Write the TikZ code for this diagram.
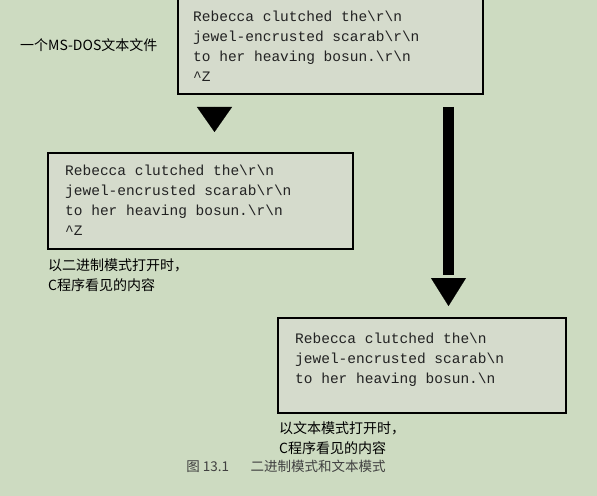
\documentclass[tikz,border=0pt]{standalone}
\usepackage{fontspec}
\setmonofont{Liberation Mono}
\newfontfamily\cjk{Noto Sans CJK SC}
\usetikzlibrary{positioning,arrows.meta}
\definecolor{bgcol}{HTML}{CDDBC1}
\definecolor{boxcol}{HTML}{D5DBCC}
\definecolor{inkcol}{HTML}{222222}

\begin{document}
\begin{tikzpicture}[x=1bp,y=-1bp,
  codebox/.style={draw=black,line width=1.8bp,fill=boxcol,anchor=north west,inner sep=0pt},
  code/.style={font=\ttfamily\fontsize{14.5bp}{20bp}\selectfont,text=inkcol,align=left,inner sep=0pt},
  note/.style={font=\cjk\fontsize{14bp}{19.5bp}\selectfont,text=black,align=left,inner sep=0pt},
  headonly/.style={-{Triangle[length=#1,width=35bp]},line width=0.1bp}]
\useasboundingbox[fill=bgcol] (0,0) rectangle (597,496);

% the three boxes
\node[codebox,minimum width=305bp,minimum height=96bp] (dosbox) at (177,-3) {};
\node[codebox,minimum width=305bp,minimum height=96bp] (binbox) at (47,152) {};
\node[codebox,minimum width=288bp,minimum height=95bp] (txtbox) at (277,317) {};

\node[code,below right=14bp and 16bp of dosbox.north west] (dostext)
  {Rebecca clutched the\textbackslash r\textbackslash n\\
   jewel-encrusted scarab\textbackslash r\textbackslash n\\
   to her heaving bosun.\textbackslash r\textbackslash n\\
   \textasciicircum Z};
\node[code,below right=13bp and 18bp of binbox.north west] (bintext)
  {Rebecca clutched the\textbackslash r\textbackslash n\\
   jewel-encrusted scarab\textbackslash r\textbackslash n\\
   to her heaving bosun.\textbackslash r\textbackslash n\\
   \textasciicircum Z};
\node[code,below right=16bp and 18bp of txtbox.north west] (txttext)
  {Rebecca clutched the\textbackslash n\\
   jewel-encrusted scarab\textbackslash n\\
   to her heaving bosun.\textbackslash n};

% labels
\node[note,anchor=west] (doslabel) at (20,45) {一个MS-DOS文本文件};
\node[note,below right=9bp and 1bp of binbox.south west] (binlabel)
  {以二进制模式打开时，\\C程序看见的内容};
\node[note,below right=8bp and 2bp of txtbox.south west] (txtlabel)
  {以文本模式打开时，\\C程序看见的内容};
\node[font=\cjk\fontsize{13.5bp}{16bp}\selectfont,text=black!75] (caption) at (286,466)
  {图 13.1\hspace{1.6em}二进制模式和文本模式};

% arrows
\coordinate (binA) at (214.5,107);
\coordinate (binB) at (214.5,132);
\draw[headonly=25bp] (binA) -- (binB);

\coordinate (txtA) at (448.5,107);
\coordinate (txtB) at (448.5,275);
\coordinate (txtC) at (448.5,278);
\coordinate (txtD) at (448.5,306);
\draw[line width=11bp] (txtA) -- (txtB);
\draw[headonly=28bp] (txtC) -- (txtD);
\end{tikzpicture}
\end{document}
